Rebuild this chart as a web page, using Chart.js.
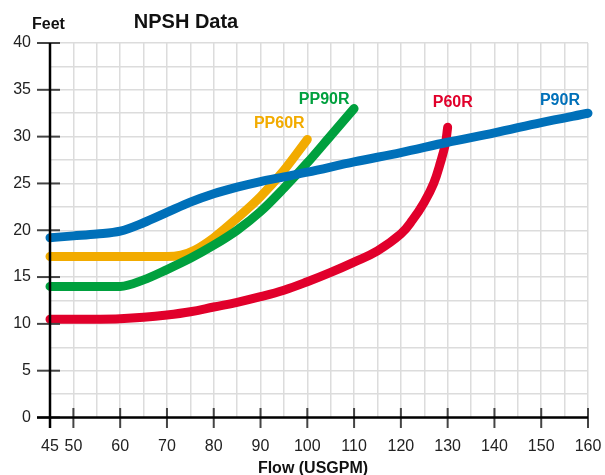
<!DOCTYPE html>
<html>
<head>
<meta charset="utf-8">
<title>NPSH Data</title>
<script src="https://cdn.jsdelivr.net/npm/chart.js@4/dist/chart.umd.min.js"></script>
<style>
    body { margin: 0; background: #fff; }
    canvas { display: block; }
</style>
</head>
<body>
<canvas id="npsh-chart" width="605" height="475"></canvas>
<script>
// Flow (USGPM) / NPSH (feet)
const p90rFlow = [45, 50, 55, 60, 65, 70, 75, 80, 85, 90, 95, 100, 110, 120, 130, 140, 150, 160];
const p90rFeet = [19.2, 19.4, 19.6, 19.9, 20.8, 21.9, 23.0, 23.9, 24.6, 25.2, 25.7, 26.2, 27.3, 28.3, 29.4, 30.4, 31.5, 32.5];

const p60rFlow = [45, 50, 55, 60, 65, 70, 75, 80, 85, 90, 95, 100, 105, 110, 115, 120, 122.5, 125, 127, 128.5, 129.5, 130];
const p60rFeet = [10.5, 10.5, 10.5, 10.55, 10.7, 10.95, 11.3, 11.8, 12.3, 12.9, 13.6, 14.5, 15.5, 16.6, 17.8, 19.6, 21.1, 23.0, 25.0, 27.3, 29.2, 31.0];

const pp90rFlow = [45, 50, 55, 60, 65, 70, 75, 80, 85, 90, 95, 100, 105, 110];
const pp90rFeet = [14, 14, 14, 14, 14.7, 15.8, 17.0, 18.4, 20.0, 22.0, 24.5, 27.2, 30.1, 33.0];

const pp60rFlow = [45, 50, 60, 70, 73, 76, 80, 85, 90, 95, 100];
const pp60rFeet = [17.2, 17.2, 17.2, 17.2, 17.35, 17.9, 19.2, 21.3, 23.6, 26.4, 29.7];

const xTickLabels = [45, 50, 60, 70, 80, 90, 100, 110, 120, 130, 140, 150, 160];
const yTickLabels = [0, 5, 10, 15, 20, 25, 30, 35, 40];

const series = [
    { name: "P90R", flow: p90rFlow, feet: p90rFeet, color: "#0070b9", labelAt: [154, 33.9] },
    { name: "P60R", flow: p60rFlow, feet: p60rFeet, color: "#e1002b", labelAt: [131.1, 33.6] },
    { name: "PP90R", flow: pp90rFlow, feet: pp90rFeet, color: "#00a03e", labelAt: [103.6, 34.0] },
    { name: "PP60R", flow: pp60rFlow, feet: pp60rFeet, color: "#f2ab00", labelAt: [94.0, 31.4] },
];

const FONT = "'Liberation Sans', Arial, sans-serif";
Chart.defaults.font.family = FONT;

// axes that cross at the origin, ticks through the axis, and the free text
const decorations = {
    id: "decorations",
    afterDatasetsDraw(chart) {
        const { ctx, scales: { x, y } } = chart;
        const x0 = x.getPixelForValue(45);
        const y0 = y.getPixelForValue(0);

        ctx.save();
        // tick marks
        ctx.strokeStyle = "#444";
        ctx.lineWidth = 2;
        yTickLabels.forEach((v) => {
            const py = y.getPixelForValue(v);
            ctx.beginPath();
            ctx.moveTo(x0 - 13, py);
            ctx.lineTo(x0 + 10, py);
            ctx.stroke();
        });
        xTickLabels.forEach((v) => {
            const px = x.getPixelForValue(v);
            ctx.beginPath();
            ctx.moveTo(px, y0 - 9.5);
            ctx.lineTo(px, y0 + 10.5);
            ctx.stroke();
        });

        // axis lines
        ctx.strokeStyle = "#000";
        ctx.lineWidth = 2.5;
        ctx.beginPath();
        ctx.moveTo(x0, y.getPixelForValue(40));
        ctx.lineTo(x0, y0 + 10.5);
        ctx.moveTo(x0 - 13, y0);
        ctx.lineTo(x.getPixelForValue(160), y0);
        ctx.stroke();

        // series names
        ctx.font = "bold 16px " + FONT;
        ctx.textAlign = "center";
        ctx.textBaseline = "middle";
        series.forEach((s) => {
            ctx.fillStyle = s.color;
            ctx.fillText(s.name, x.getPixelForValue(s.labelAt[0]), y.getPixelForValue(s.labelAt[1]));
        });

        // titles
        ctx.fillStyle = "#111";
        ctx.textBaseline = "alphabetic";
        ctx.font = "bold 20px " + FONT;
        ctx.fillText("NPSH Data", 186, 27.5);
        ctx.font = "bold 16px " + FONT;
        ctx.fillText("Feet", 48.5, 28.5);
        ctx.fillText("Flow (USGPM)", 313, 473);
        ctx.restore();
    },
};

new Chart(document.getElementById("npsh-chart"), {
    type: "line",
    data: {
        datasets: series.map((s, i) => ({
            label: s.name,
            data: s.flow.map((f, j) => ({ x: f, y: s.feet[j] })),
            borderColor: s.color,
            borderWidth: 9,
            borderCapStyle: "round",
            borderJoinStyle: "round",
            // the P60R curve turns vertical, so it gets a plain bezier
            cubicInterpolationMode: s.name === "P60R" ? "default" : "monotone",
            tension: 0.4,
            pointRadius: 0,
            clip: false,
            order: i, // blue first, drawn on top
        })),
    },
    options: {
        responsive: false,
        animation: false,
        events: [],
        layout: { padding: { top: 43, right: 17, left: 0, bottom: 0 } },
        plugins: {
            legend: { display: false },
            tooltip: { enabled: false },
        },
        scales: {
            x: {
                type: "linear",
                min: 45,
                max: 160,
                afterBuildTicks: (scale) => {
                    const ticks = [];
                    for (let v = 45; v <= 160; v += 5) ticks.push({ value: v });
                    scale.ticks = ticks;
                },
                afterFit: (scale) => {
                    scale.height = 57.5;
                    scale.paddingLeft = 0;
                    scale.paddingRight = 0;
                },
                ticks: {
                    autoSkip: false,
                    maxRotation: 0,
                    padding: 19,
                    color: "#222",
                    font: { size: 16 },
                    callback: (v) => (xTickLabels.includes(v) ? String(v) : ""),
                },
                grid: { color: "#dcdcdc", lineWidth: 1.5, drawTicks: false },
                border: { display: false },
            },
            y: {
                type: "linear",
                min: 0,
                max: 40,
                afterBuildTicks: (scale) => {
                    const ticks = [];
                    for (let v = 0; v <= 40; v += 2.5) ticks.push({ value: v });
                    scale.ticks = ticks;
                },
                afterFit: (scale) => {
                    scale.width = 50;
                    scale.paddingTop = 0;
                    scale.paddingBottom = 0;
                },
                ticks: {
                    autoSkip: false,
                    padding: 19,
                    color: "#222",
                    font: { size: 16 },
                    callback: (v) => (yTickLabels.includes(v) ? String(v) : ""),
                },
                grid: { color: "#dcdcdc", lineWidth: 1.5, drawTicks: false },
                border: { display: false },
            },
        },
    },
    plugins: [decorations],
});
</script>
</body>
</html>
